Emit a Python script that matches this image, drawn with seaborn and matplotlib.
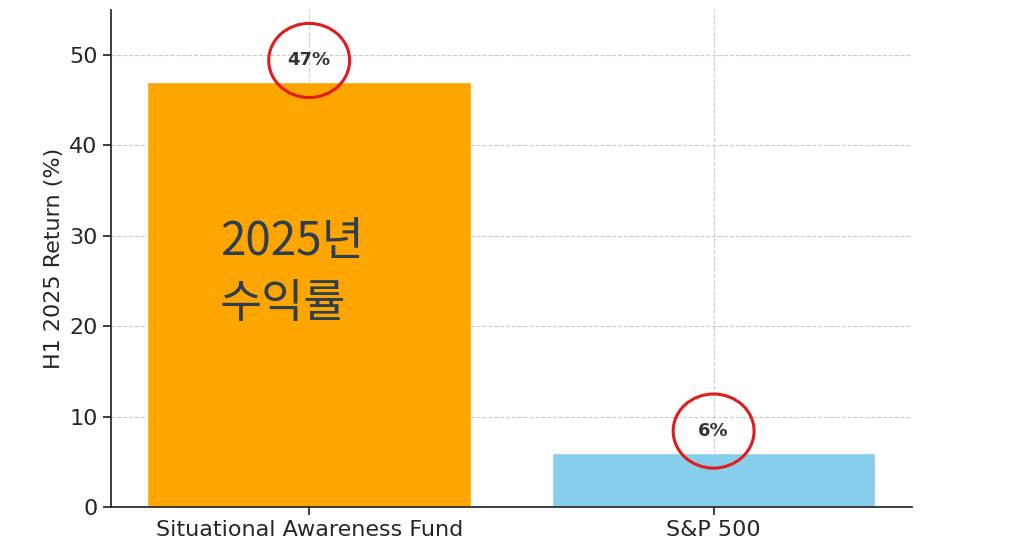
import seaborn as sns
import matplotlib.pyplot as plt
import pandas as pd
from matplotlib.patches import Ellipse

categories = ["Situational Awareness Fund", "S&P 500"]
returns = [47, 6]
labels = ["47%", "6%"]
colors = ["#FFA500", "#87CEEB"]

sns.set_theme(style="ticks")
plt.rcParams['font.family'] = ['Noto Sans CJK KR', 'DejaVu Sans']

df = pd.DataFrame({"cat": categories, "ret": returns})

fig = plt.figure(figsize=(10.24, 5.53), dpi=100)
ax = fig.add_axes([0.1084, 0.0832, 0.782, 0.899])
sns.barplot(data=df, x="cat", y="ret", hue="cat", palette=colors, width=0.8,
            legend=False, ax=ax, saturation=1, zorder=2)

ax.set_xlim(-0.49, 1.49)
ax.set_ylim(0, 55)
ax.grid(True, linestyle="--", color="#cccccc", linewidth=0.8, zorder=0)
ax.set_axisbelow(True)
for s in ["top", "right"]:
    ax.spines[s].set_visible(False)
ax.set_xlabel("")
ax.set_ylabel("H1 2025 Return (%)", fontsize=16, family="DejaVu Sans")
ax.tick_params(labelsize=16)
for t in ax.get_xticklabels() + ax.get_yticklabels():
    t.set_family("DejaVu Sans")

for i, (v, lab) in enumerate(zip(returns, labels)):
    y = v + 2.4
    ax.text(i, y, lab, ha="center", va="center", fontsize=13, fontweight="bold",
            color="#333333", family="DejaVu Sans", zorder=5)
    ax.add_patch(Ellipse((i, y), 0.2, 8.2, fill=False, edgecolor="#e31a1c",
                         linewidth=2.2, zorder=6, clip_on=False))

ax.text(-0.22, 32, "2025년\n수익률", ha="left", va="top", fontsize=33,
        fontweight="medium", color="#2c3e50", linespacing=1.35, zorder=5)

fig.savefig("out.png", dpi=100)
